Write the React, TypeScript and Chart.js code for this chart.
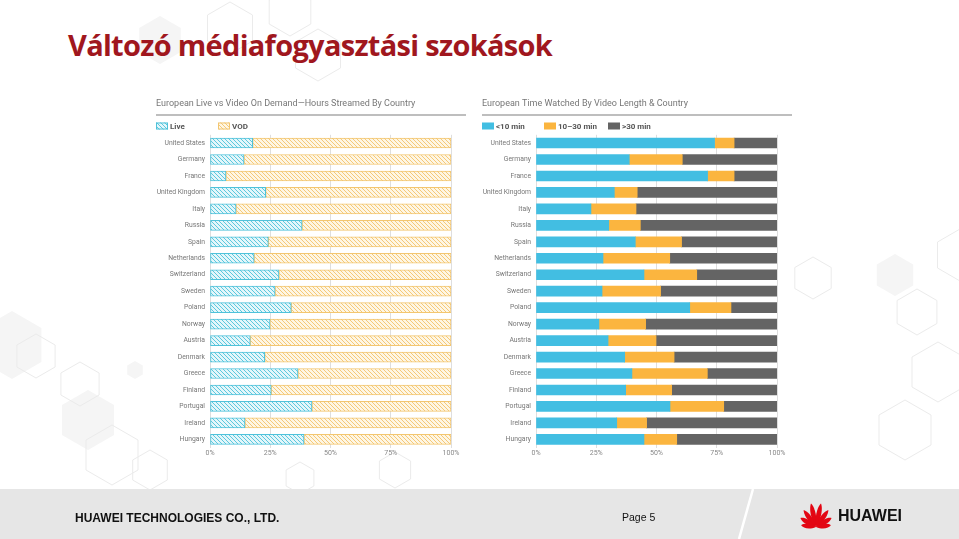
import React, { useEffect, useRef } from "react";
import { Chart, registerables } from "chart.js";
Chart.register(...registerables);

const countries = [
  "United States", "Germany", "France", "United Kingdom", "Italy", "Russia", "Spain",
  "Netherlands", "Switzerland", "Sweden", "Poland", "Norway", "Austria", "Denmark",
  "Greece", "Finland", "Portugal", "Ireland", "Hungary",
];
const liveShare = [17.7, 14.1, 6.6, 23.1, 10.8, 38.2, 24.2, 18.3, 28.6, 27.0, 33.7, 24.9, 16.7, 22.7, 36.5, 25.4, 42.3, 14.5, 39.0];
const vodShare = [82.3, 85.9, 93.4, 76.9, 89.2, 61.8, 75.8, 81.7, 71.4, 73.0, 66.3, 75.1, 83.3, 77.3, 63.5, 74.6, 57.7, 85.5, 61.0];
const under10 = [74.1, 38.7, 71.2, 32.5, 22.8, 30.2, 41.2, 27.8, 44.8, 27.4, 63.8, 26.1, 29.9, 36.8, 39.8, 37.2, 55.6, 33.5, 44.8];
const mid10to30 = [8.1, 22.0, 11.0, 9.5, 18.7, 13.1, 19.2, 27.7, 21.9, 24.3, 17.1, 19.4, 19.9, 20.5, 31.3, 19.1, 22.3, 12.4, 13.6];
const over30 = [17.8, 39.3, 17.8, 58.0, 58.5, 56.7, 39.6, 44.5, 33.3, 48.3, 19.1, 54.5, 50.2, 42.7, 28.9, 43.7, 22.1, 54.1, 41.6];
const leftLabels = ["Live", "VOD"];
const rightLabels = ["<10 min", "10–30 min", ">30 min"];
const leftTitle = "European Live vs Video On Demand—Hours Streamed By Country";
const rightTitle = "European Time Watched By Video Length & Country";

const FONT = "Roboto, 'Noto Sans', sans-serif";

function makeHatch(bg: string, stripe: string): CanvasPattern | string {
  const s = 4;
  const c = document.createElement("canvas");
  c.width = s;
  c.height = s;
  const g = c.getContext("2d");
  if (!g) return bg;
  g.fillStyle = bg;
  g.fillRect(0, 0, s, s);
  g.strokeStyle = stripe;
  g.lineWidth = 1;
  g.beginPath();
  for (const k of [-s, 0, s]) {
    g.moveTo(k, 0);
    g.lineTo(k + s, s);
  }
  g.stroke();
  return g.createPattern(c, "repeat") || bg;
}

const boxLegend = {
  id: "boxLegend",
  afterLayout(chart: any) {
    const y = chart.scales.y;
    if (y) y.left = 0;
  },
  afterDraw(chart: any, _args: any, opts: any) {
    const ctx = chart.ctx as CanvasRenderingContext2D;
    ctx.save();
    ctx.strokeStyle = "#a8a8a8";
    ctx.lineWidth = 1.5;
    ctx.beginPath();
    ctx.moveTo(opts.x0, opts.lineY);
    ctx.lineTo(chart.width, opts.lineY);
    ctx.stroke();
    chart.data.datasets.forEach((ds: any, i: number) => {
      const x = opts.x0 + opts.xs[i];
      const y = opts.y;
      ctx.fillStyle = ds.backgroundColor;
      ctx.fillRect(x, y - 3.5, 12, 7);
      if (ds.borderWidth) {
        ctx.strokeStyle = ds.borderColor;
        ctx.lineWidth = 1;
        ctx.strokeRect(x + 0.5, y - 3, 11, 6);
      }
      ctx.fillStyle = "#555";
      ctx.font = `bold 8px ${FONT}`;
      ctx.textBaseline = "middle";
      ctx.textAlign = "left";
      ctx.fillText(ds.label, x + 14, y + 0.5);
    });
    ctx.restore();
  },
};

function baseOptions(title: string, xs: number[]): any {
  return {
    animation: false,
    responsive: false,
    indexAxis: "y",
    layout: { padding: { left: 10, right: 15, top: 0, bottom: 0 } },
    plugins: {
      legend: { display: false },
      tooltip: { enabled: false },
      title: {
        display: true,
        text: title,
        align: "start",
        color: "#777",
        font: { family: FONT, size: 9, weight: "normal" },
        padding: { top: 6, bottom: 26 },
      },
      boxLegend: { xs, x0: 10, y: 34, lineY: 23 },
    },
    scales: {
      x: {
        stacked: true,
        min: 0,
        max: 100,
        border: { display: false },
        grid: { color: "#dedede", drawTicks: false, lineWidth: 1 },
        ticks: {
          stepSize: 25,
          padding: 1,
          color: "#888",
          font: { family: FONT, size: 7 },
          callback: (v: any) => `${v}%`,
        },
      },
      y: {
        stacked: true,
        border: { display: false },
        grid: { display: false, drawTicks: false },
        afterFit: (s: any) => {
          s.width = 54;
        },
        ticks: {
          autoSkip: false,
          padding: 5,
          color: "#777",
          font: { family: FONT, size: 6.8 },
        },
      },
    },
  };
}

function LeftChart() {
  const ref = useRef<HTMLCanvasElement>(null);
  useEffect(() => {
    if (!ref.current) return;
    const live = makeHatch("#e4f6fa", "#5cc8de");
    const vod = makeHatch("#fef6e4", "#f5c978");
    const chart = new Chart(ref.current, {
      type: "bar",
      data: {
        labels: countries,
        datasets: [
          { label: leftLabels[0], data: liveShare, backgroundColor: live as any, borderColor: "#4fc2da", borderWidth: 1, borderSkipped: false, barThickness: 10 },
          { label: leftLabels[1], data: vodShare, backgroundColor: vod as any, borderColor: "#f3c670", borderWidth: 1, borderSkipped: false, barThickness: 10 },
        ],
      },
      options: baseOptions(leftTitle, [0, 62]),
      plugins: [boxLegend as any],
    });
    return () => chart.destroy();
  }, []);
  return <canvas ref={ref} width={320} height={366} style={{ display: "block" }} />;
}

function RightChart() {
  const ref = useRef<HTMLCanvasElement>(null);
  useEffect(() => {
    if (!ref.current) return;
    const chart = new Chart(ref.current, {
      type: "bar",
      data: {
        labels: countries,
        datasets: [
          { label: rightLabels[0], data: under10, backgroundColor: "#42bee2", borderWidth: 0, barThickness: 10 },
          { label: rightLabels[1], data: mid10to30, backgroundColor: "#fbb53f", borderWidth: 0, barThickness: 10 },
          { label: rightLabels[2], data: over30, backgroundColor: "#646464", borderWidth: 0, barThickness: 10 },
        ],
      },
      options: baseOptions(rightTitle, [0, 62, 126]),
      plugins: [boxLegend as any],
    });
    return () => chart.destroy();
  }, []);
  return <canvas ref={ref} width={320} height={366} style={{ display: "block" }} />;
}

function hexPts(cx: number, cy: number, r: number) {
  const pts: string[] = [];
  for (let i = 0; i < 6; i++) {
    const a = ((-90 + 60 * i) * Math.PI) / 180;
    pts.push(`${(cx + r * Math.cos(a)).toFixed(1)},${(cy + r * Math.sin(a)).toFixed(1)}`);
  }
  return pts.join(" ");
}

const hexOutlines = [
  [813, 278, 21], [917, 312, 23], [938, 372, 30], [905, 430, 30], [960, 255, 26],
  [36, 356, 22], [80, 384, 22], [112, 455, 30], [150, 470, 20],
  [230, 28, 26], [290, 12, 24], [318, 55, 26], [395, 470, 18], [300, 478, 16],
];
const hexFills = [
  [895, 275, 21], [12, 345, 34], [88, 420, 30], [135, 370, 9], [160, 40, 24],
];

function Background() {
  return (
    <svg width={959} height={539} style={{ position: "absolute", left: 0, top: 0 }}>
      {hexFills.map(([x, y, r], i) => (
        <polygon key={`f${i}`} points={hexPts(x, y, r)} fill="#f5f5f5" stroke="none" />
      ))}
      {hexOutlines.map(([x, y, r], i) => (
        <polygon key={`o${i}`} points={hexPts(x, y, r)} fill="none" stroke="#ebebeb" strokeWidth={1} />
      ))}
    </svg>
  );
}

function HuaweiLogo() {
  const bx = 816;
  const by = 527;
  const petals = [
    [-12, 24], [12, 24], [-36, 21], [36, 21], [-60, 18], [60, 18], [-83, 15], [83, 15],
  ];
  return (
    <svg width={959} height={539} style={{ position: "absolute", left: 0, top: 0 }}>
      {petals.map(([ang, len], i) => (
        <path
          key={i}
          d={`M ${bx} ${by} C ${bx - 4} ${by - len * 0.45}, ${bx - 2.5} ${by - len * 0.85}, ${bx} ${by - len} C ${bx + 2.5} ${by - len * 0.85}, ${bx + 4} ${by - len * 0.45}, ${bx} ${by} Z`}
          fill="#e30613"
          transform={`rotate(${ang} ${bx} ${by})`}
        />
      ))}
    </svg>
  );
}

export default function App() {
  return (
    <div style={{ position: "absolute", left: 0, top: 0, width: 959, height: 539, background: "#fff", overflow: "hidden", fontFamily: "'Liberation Sans', Arial, sans-serif" }}>
      <Background />
      <div style={{ position: "absolute", left: 68, top: 30, fontFamily: "'Open Sans', sans-serif", fontWeight: 700, fontSize: 29, color: "#a0171e", lineHeight: 1, whiteSpace: "nowrap", letterSpacing: -0.7 }}>
        Változó médiafogyasztási szokások
      </div>
      <div style={{ position: "absolute", left: 146, top: 92 }}>
        <LeftChart />
      </div>
      <div style={{ position: "absolute", left: 472, top: 92 }}>
        <RightChart />
      </div>
      <div style={{ position: "absolute", left: 0, top: 489, width: 959, height: 50, background: "#e6e6e6" }} />
      <svg width={959} height={539} style={{ position: "absolute", left: 0, top: 0 }}>
        <line x1={753} y1={489} x2={739} y2={539} stroke="#ffffff" strokeWidth={2.5} />
      </svg>
      <div style={{ position: "absolute", left: 75, top: 512, fontSize: 12, fontWeight: 700, color: "#111", whiteSpace: "nowrap", lineHeight: 1 }}>
        HUAWEI TECHNOLOGIES CO., LTD.
      </div>
      <div style={{ position: "absolute", left: 622, top: 512, fontSize: 10.5, color: "#111", whiteSpace: "nowrap", lineHeight: 1 }}>
        Page 5
      </div>
      <HuaweiLogo />
      <div style={{ position: "absolute", left: 838, top: 508, fontSize: 16, fontWeight: 700, color: "#111", whiteSpace: "nowrap", lineHeight: 1 }}>
        HUAWEI
      </div>
    </div>
  );
}
